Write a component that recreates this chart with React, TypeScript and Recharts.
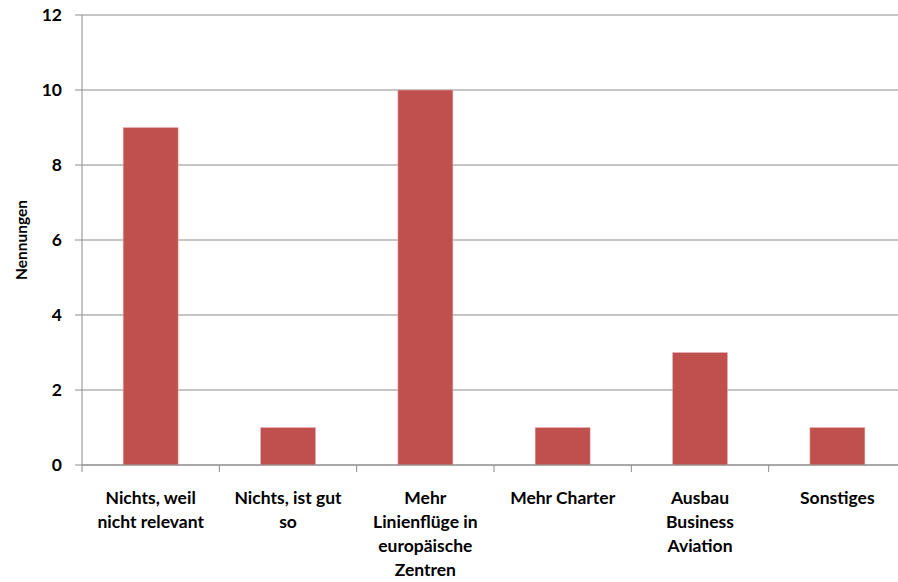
import React from 'react';
import { BarChart, Bar, XAxis, YAxis, CartesianGrid } from 'recharts';

const categories = [
  'Nichts, weil\nnicht relevant',
  'Nichts, ist gut\nso',
  'Mehr\nLinienflüge in\neuropäische\nZentren',
  'Mehr Charter',
  'Ausbau\nBusiness\nAviation',
  'Sonstiges',
];
const nennungen = [9, 1, 10, 1, 3, 1];
const yTicks = [0, 2, 4, 6, 8, 10, 12];

const data = categories.map((name, i) => ({ name, value: nennungen[i] }));

const FONT = 'Lato, "Open Sans", sans-serif';
const AXIS_GRAY = '#8c8c8c';
const BAND = 824 / categories.length;

const CategoryTick = (props: any) => {
  const { x, y, payload } = props;
  const lines = String(payload.value).split('\n');
  const left = x - BAND / 2;
  return (
    <g>
      <line x1={left} y1={y - 8} x2={left} y2={y - 1} stroke={AXIS_GRAY} strokeWidth={1} />
      <text x={x} y={y + 31} textAnchor="middle" fontFamily={FONT} fontWeight="bold" fontSize={17.5} fill="#000">
        {lines.map((l, i) => (
          <tspan key={i} x={x} dy={i === 0 ? 0 : 24}>{l}</tspan>
        ))}
      </text>
    </g>
  );
};

const App: React.FC = () => {
  return (
    <div style={{ position: 'absolute', left: 0, top: 0, width: 898, height: 582, overflow: 'hidden', background: '#fff' }}>
      <BarChart width={908} height={582} data={data} margin={{ top: 15, right: 2, left: 22, bottom: 0 }} barCategoryGap="30%">
        <CartesianGrid vertical={false} stroke={AXIS_GRAY} strokeWidth={1} />
        <XAxis
          dataKey="name"
          interval={0}
          height={117}
          tickLine={false}
          axisLine={{ stroke: AXIS_GRAY }}
          tick={<CategoryTick />}
        />
        <YAxis
          width={60}
          domain={[0, 12]}
          ticks={yTicks}
          tickSize={7}
          tickMargin={13}
          tickLine={{ stroke: AXIS_GRAY }}
          axisLine={{ stroke: AXIS_GRAY }}
          tick={{ fontFamily: FONT, fontWeight: 'bold', fontSize: 17.5, fill: '#000' }}
          label={{
            value: 'Nennungen',
            angle: -90,
            position: 'insideLeft',
            dx: -6,
            style: { fontFamily: FONT, fontWeight: 'bold', fontSize: 15.5, fill: '#000', textAnchor: 'middle' },
          }}
        />
        <Bar dataKey="value" fill="#C0504D" stroke="#E6B9B8" strokeWidth={0.5} isAnimationActive={false} />
      </BarChart>
    </div>
  );
};

export default App;
